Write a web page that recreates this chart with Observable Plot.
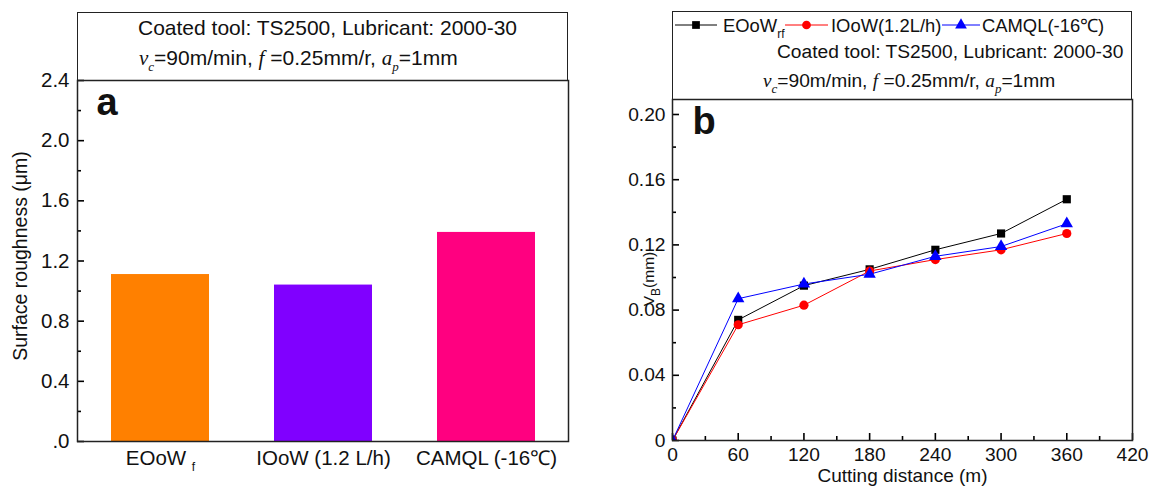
<!DOCTYPE html>
<html>
<head>
<meta charset="utf-8">
<script src="https://cdn.jsdelivr.net/npm/d3@7"></script>
<script src="https://cdn.jsdelivr.net/npm/@observablehq/plot@0.6"></script>
<style>
  html, body { margin: 0; padding: 0; background: #fff; }
  #figure { position: relative; width: 1151px; height: 486px; overflow: hidden;
    font-family: "Liberation Sans", Arial, sans-serif; color: #111; }
  #figure svg { position: absolute; top: 0; overflow: visible; }
  .box { position: absolute; border: 1.5px solid #222; box-sizing: border-box; }
  .txt { position: absolute; white-space: nowrap; line-height: 1; }
  .it { font-family: "Liberation Serif", "Times New Roman", serif; font-style: italic; }
  .sub { font-size: 12px; position: relative; top: 6px; }
  .sub.it { font-size: 13px; }
  .key { position: absolute; overflow: visible; }
</style>
</head>
<body>
<div id="figure"></div>
<script>
// Panel a: surface roughness per cooling/lubrication strategy
const barCategories = ["EOoW _{f}", "IOoW (1.2 L/h)", "CAMQL (-16℃)"];
const barValues = [1.11, 1.04, 1.39];
const barColors = ["#ff8000", "#8000ff", "#ff0080"];
const roughnessTicks = [0, 0.4, 0.8, 1.2, 1.6, 2.0, 2.4];
const roughnessMinorTicks = [0.2, 0.6, 1.0, 1.4, 1.8, 2.2];

// Panel b: flank wear VB against cutting distance
const distances = [0, 60, 120, 180, 240, 300, 360];
const wearEOoW = [0, 0.074, 0.095, 0.105, 0.117, 0.127, 0.148];
const wearIOoW = [0, 0.071, 0.083, 0.104, 0.111, 0.117, 0.127];
const wearCAMQL = [0, 0.087, 0.096, 0.102, 0.113, 0.119, 0.133];
const seriesNames = ["EOoW_{rf}", "IOoW(1.2L/h)", "CAMQL(-16℃)"];
const seriesColors = ["#000000", "#ff0000", "#0000ff"];
const seriesSymbols = ["square", "circle", "triangle"];
const distanceTicks = [0, 60, 120, 180, 240, 300, 360, 420];
const distanceMinorTicks = [30, 90, 150, 210, 270, 330, 390];
const wearTicks = [0, 0.04, 0.08, 0.12, 0.16, 0.20];
const wearMinorTicks = [0.02, 0.06, 0.10, 0.14, 0.18];

const headerLine1 = "Coated tool: TS2500, Lubricant: 2000-30";
const headerLine2 = '<span class="it">v</span><span class="sub it">c</span>=90m/min, <span class="it">f</span> =0.25mm/r, <span class="it">a</span><span class="sub it">p</span>=1mm';

const fig = document.getElementById("figure");
const FONT = "Liberation Sans, Arial, sans-serif";
const TICK = {stroke: "#000", strokeWidth: 1.6};

// Turn "name_{sub}" into SVG tspans with a lowered, smaller subscript
function svgSubscripts(svg) {
  d3.select(svg).selectAll("text").each(function () {
    const t = this.textContent;
    if (!t.includes("_{")) return;
    const parts = t.split(/(_\{[^}]*\})/).filter(p => p.length);
    const sel = d3.select(this);
    this.textContent = "";
    let lowered = false;
    for (const p of parts) {
      const m = p.match(/^_\{([^}]*)\}$/);
      if (m) {
        sel.append("tspan").attr("font-size", "12px").attr("dy", "6").text(m[1]);
        lowered = true;
      } else {
        const ts = sel.append("tspan").text(p);
        if (lowered) { ts.attr("dy", "-6"); lowered = false; }
      }
    }
  });
}
const htmlSubscripts = s => s.replace(/_\{([^}]*)\}/g, '<span class="sub">$1</span>');

// ---------- panel a ----------
const barRows = barCategories.map((c, i) => ({category: c, value: barValues[i]}));
const aFrameW = 590 - 77 - 22;
const plotA = Plot.plot({
  width: 590, height: 486,
  marginLeft: 77, marginRight: 22, marginTop: 80, marginBottom: 45,
  style: {fontFamily: FONT, fontSize: "20.5px", color: "#111", background: "transparent"},
  x: {domain: barCategories, paddingInner: 0.4, paddingOuter: 0.2},
  y: {domain: [0, 2.4]},
  color: {domain: barCategories, range: barColors},
  marks: [
    Plot.barY(barRows, {x: "category", y: "value", fill: "category"}),
    Plot.tickY(roughnessTicks, {y: d => d, insetRight: aFrameW - 7, ...TICK}),
    Plot.tickY(roughnessMinorTicks, {y: d => d, insetRight: aFrameW - 4, ...TICK}),
    Plot.axisY({ticks: roughnessTicks, tickSize: 0, tickPadding: 8, label: null,
      tickFormat: d => d === 0 ? ".0" : d.toFixed(1)}),
    Plot.axisX({tickSize: 0, tickPadding: 9, label: null}),
    Plot.text(["Surface roughness (μm)"], {text: d => d, frameAnchor: "left", rotate: -90, dx: -57, dy: -5,
      textAnchor: "middle", lineAnchor: "middle", fontSize: 19.5}),
    Plot.text(["a"], {text: d => d, frameAnchor: "top-left", dx: 19, dy: 8, lineAnchor: "top",
      textAnchor: "start", fontSize: 38, fontWeight: "bold"}),
    Plot.frame({stroke: "#222", strokeWidth: 1.5})
  ]
});
plotA.style.left = "0px";
svgSubscripts(plotA);
fig.appendChild(plotA);

// ---------- panel b ----------
const wearRows = [];
[wearEOoW, wearIOoW, wearCAMQL].forEach((vals, s) =>
  vals.forEach((v, i) => wearRows.push({series: seriesNames[s], distance: distances[i], wear: v})));
const bFrameW = 561 - 82 - 19;
const bFrameH = 486 - 99 - 46;
const plotB = Plot.plot({
  width: 561, height: 486,
  marginLeft: 82, marginRight: 19, marginTop: 99, marginBottom: 46,
  style: {fontFamily: FONT, fontSize: "19.2px", color: "#111", background: "transparent"},
  x: {domain: [0, 420]},
  y: {domain: [0, 0.2092]},
  color: {domain: seriesNames, range: seriesColors},
  symbol: {domain: seriesNames, range: seriesSymbols},
  marks: [
    Plot.line(wearRows, {x: "distance", y: "wear", z: "series", stroke: "series", strokeWidth: 1}),
    Plot.dot(wearRows, {x: "distance", y: "wear", fill: "series", symbol: "series", r: 4.6, clip: true}),
    Plot.tickX(distanceTicks, {x: d => d, insetTop: bFrameH - 7, ...TICK}),
    Plot.tickX(distanceMinorTicks, {x: d => d, insetTop: bFrameH - 4, ...TICK}),
    Plot.tickY(wearTicks, {y: d => d, insetRight: bFrameW - 7, ...TICK}),
    Plot.tickY(wearMinorTicks, {y: d => d, insetRight: bFrameW - 4, ...TICK}),
    Plot.axisX({ticks: distanceTicks, tickSize: 0, tickPadding: 7, label: null, tickFormat: d => String(d)}),
    Plot.axisY({ticks: wearTicks, tickSize: 0, tickPadding: 7, label: null,
      tickFormat: d => d === 0 ? "0" : d.toFixed(2)}),
    Plot.text(["Cutting distance (m)"], {text: d => d, frameAnchor: "bottom", dy: 35, lineAnchor: "middle", fontSize: 19}),
    Plot.text(["V_{B}(mm)"], {text: d => d, frameAnchor: "left", rotate: -90, dx: -23, dy: 9,
      textAnchor: "middle", lineAnchor: "middle", fontSize: 15.5}),
    Plot.text(["b"], {text: d => d, frameAnchor: "top-left", dx: 20, dy: 8, lineAnchor: "top",
      textAnchor: "start", fontSize: 38, fontWeight: "bold"}),
    Plot.frame({stroke: "#222", strokeWidth: 1.5})
  ]
});
plotB.style.left = "590px";
svgSubscripts(plotB);
fig.appendChild(plotB);

// ---------- header boxes above each panel ----------
function addDiv(cls, css, html) {
  const d = document.createElement("div");
  d.className = cls;
  Object.assign(d.style, css);
  if (html != null) d.innerHTML = html;
  fig.appendChild(d);
  return d;
}
addDiv("box", {left: "77px", top: "12px", width: "491px", height: "69px"});
addDiv("txt", {left: "138px", top: "17px", fontSize: "21px"}, headerLine1);
addDiv("txt", {left: "139px", top: "47px", fontSize: "21px"}, headerLine2);

addDiv("box", {left: "672px", top: "11px", width: "460px", height: "89px"});
addDiv("txt", {left: "777px", top: "42px", fontSize: "19.2px"}, headerLine1);
addDiv("txt", {left: "763px", top: "71px", fontSize: "19.2px"}, headerLine2);

// legend row: line + marker, then series name
const keyLeft = [675, 785, 942];
const keyWidth = [42, 43, 38];
const textLeft = [723, 831, 982];
const symbolType = {square: d3.symbolSquare, circle: d3.symbolCircle, triangle: d3.symbolTriangle};
seriesNames.forEach((name, i) => {
  const svg = d3.create("svg").attr("class", "key")
    .attr("width", keyWidth[i]).attr("height", 14)
    .style("left", keyLeft[i] + "px").style("top", "17.5px");
  svg.append("line").attr("x1", 0).attr("x2", keyWidth[i]).attr("y1", 7).attr("y2", 7)
    .attr("stroke", seriesColors[i]).attr("stroke-width", 1);
  svg.append("path").attr("transform", `translate(${keyWidth[i] / 2},7)`)
    .attr("d", d3.symbol(symbolType[seriesSymbols[i]], 60)()).attr("fill", seriesColors[i]);
  fig.appendChild(svg.node());
  addDiv("txt", {left: textLeft[i] + "px", top: "17px", fontSize: "18.4px"}, htmlSubscripts(name));
});
</script>
</body>
</html>
